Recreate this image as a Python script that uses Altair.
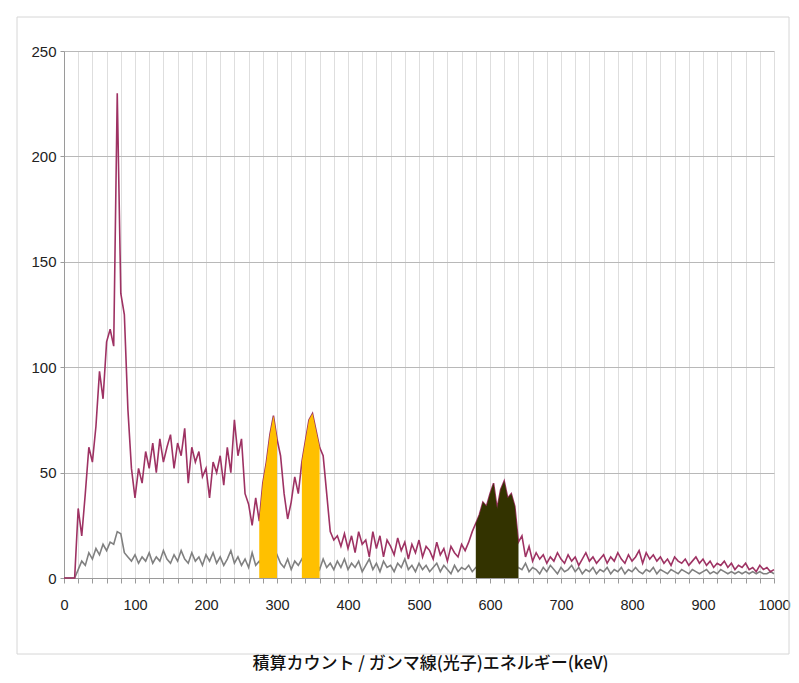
import altair as alt
import pandas as pd

# energy channels (keV)
kev = list(range(0, 1005, 5))

# cumulative counts (magenta spectrum)
total = [
    0, 0, 0, 0, 33, 20, 40, 62, 55, 72,
    98, 85, 112, 118, 110, 230, 135, 125, 80, 52,
    38, 52, 45, 60, 52, 64, 50, 66, 55, 62,
    68, 52, 64, 58, 71, 45, 62, 55, 60, 48,
    52, 38, 55, 50, 58, 44, 62, 50, 75, 58,
    66, 40, 35, 25, 38, 27, 45, 55, 68, 77,
    66, 58, 40, 28, 36, 48, 40, 55, 65, 75,
    78, 70, 62, 58, 40, 22, 18, 20, 15, 21,
    14, 20, 12, 22, 16, 18, 10, 22, 14, 20,
    10, 18, 15, 11, 19, 13, 17, 9, 16, 12,
    18, 10, 15, 13, 9, 17, 11, 14, 8, 15,
    12, 10, 16, 13, 17, 22, 26, 30, 36, 34,
    40, 45, 33, 42, 46, 38, 40, 34, 17, 20,
    10, 15, 8, 12, 9, 11, 7, 10, 8, 12,
    9, 7, 11, 8, 10, 6, 9, 12, 8, 10,
    7, 9, 11, 7, 10, 8, 12, 9, 7, 11,
    8, 10, 13, 7, 12, 9, 11, 8, 10, 7,
    9, 6, 10, 8, 7, 9, 6, 8, 10, 7,
    9, 6, 8, 5, 7, 6, 8, 5, 7, 4,
    6, 5, 7, 4, 5, 3, 6, 4, 5, 3,
    4,
]

# background counts (gray spectrum)
background = [
    0, 0, 0, 0, 4, 8, 6, 12, 9, 14,
    11, 16, 13, 17, 16, 22, 21, 12, 10, 8,
    11, 7, 10, 8, 12, 7, 10, 8, 13, 9,
    7, 11, 8, 13, 9, 7, 12, 8, 10, 6,
    11, 8, 12, 7, 10, 6, 9, 13, 7, 10,
    6, 9, 5, 12, 6, 8, 5, 7, 5, 9,
    11, 7, 5, 9, 4, 8, 6, 9, 5, 7,
    5, 8, 4, 9, 5, 7, 4, 8, 5, 9,
    4, 7, 5, 8, 3, 6, 9, 4, 7, 3,
    8, 5, 6, 3, 7, 5, 9, 4, 6, 3,
    7, 4, 6, 3, 5, 7, 3, 6, 4, 2,
    6, 3, 5, 4, 6, 3, 5, 4, 6, 3,
    5, 4, 6, 3, 5, 4, 6, 3, 5, 4,
    7, 3, 5, 4, 2, 5, 3, 6, 4, 2,
    5, 3, 4, 6, 3, 5, 2, 4, 3, 5,
    2, 4, 3, 5, 2, 4, 3, 5, 2, 4,
    3, 5, 3, 2, 4, 3, 5, 2, 4, 3,
    2, 4, 3, 2, 4, 3, 2, 4, 3, 2,
    3, 4, 2, 3, 2, 4, 3, 2, 3, 2,
    3, 2, 3, 2, 3, 2, 3, 2, 2, 3,
    2,
]

x_grid_values = list(range(0, 1001, 20))
y_values = [0, 50, 100, 150, 200, 250]
yellow_bands = [(275, 300), (335, 360)]
dark_band = (580, 640)
x_title = "積算カウント / ガンマ線(光子)エネルギー(keV)"

df = pd.DataFrame({"keV": kev, "total": total, "bg": background})

num_font = "Liberation Sans"

x_scale = alt.Scale(domain=[0, 1000], nice=False)
y_scale = alt.Scale(domain=[0, 250], nice=False)

x_axis = alt.Axis(
    values=x_grid_values,
    labelExpr="datum.value % 100 == 0 ? datum.label : ''",
    format="d",
    labelFlush=False,
    labelOverlap=False,
    grid=True,
    gridColor="#dedede",
    gridWidth=1,
    domainColor="#9a9a9a",
    tickColor="#9a9a9a",
    tickSize=5,
    labelFont=num_font,
    labelFontSize=14.5,
    labelColor="#222222",
    labelPadding=15,
    title=x_title,
    titleFont="Noto Sans CJK JP",
    titleFontSize=17,
    titleFontWeight=500,
    titleColor="#111111",
    titlePadding=44,
    titleX=366,
)
y_axis = alt.Axis(
    values=y_values,
    grid=True,
    gridColor="#b8b8b8",
    domainColor="#9a9a9a",
    tickColor="#9a9a9a",
    tickSize=4,
    labelFont=num_font,
    labelFontSize=15,
    labelColor="#222222",
    labelPadding=4,
    title=None,
)

X = alt.X("keV:Q", scale=x_scale, axis=x_axis)
Y_TOTAL = alt.Y("total:Q", scale=y_scale, axis=y_axis)
Y_BG = alt.Y("bg:Q", scale=y_scale, axis=y_axis)

base = alt.Chart(df)

gray_line = base.mark_line(color="#808080", strokeWidth=1.6).encode(x=X, y=Y_BG)

magenta_line = base.mark_line(color="#9e3263", strokeWidth=1.6).encode(x=X, y=Y_TOTAL)

yellow_layers = []
for lo, hi in yellow_bands:
    yellow_layers.append(
        base.transform_filter(
            (alt.datum.keV >= lo) & (alt.datum.keV <= hi)
        ).mark_area(color="#FFC000", opacity=1).encode(x=X, y=Y_TOTAL)
    )

dark_area = base.transform_filter(
    (alt.datum.keV >= dark_band[0]) & (alt.datum.keV <= dark_band[1])
).mark_area(color="#333300", opacity=1).encode(x=X, y=Y_TOTAL)

frame = alt.Chart(pd.DataFrame({"a": [0]})).mark_rect(
    fillOpacity=0, stroke="#d6d6d6", strokeWidth=1, clip=False
).encode(
    x=alt.value(-47), x2=alt.value(725), y=alt.value(-34), y2=alt.value(603)
)

chart = alt.layer(
    gray_line, magenta_line, *yellow_layers, dark_area, frame
).properties(
    width=710,
    height=527,
    autosize=alt.AutoSizeParams(type="none"),
    padding={"left": 56, "top": 43, "right": 17, "bottom": 96},
    background="white",
).configure_view(stroke=None)

chart.save("out.html", embed_options={"renderer": "svg", "actions": False})
